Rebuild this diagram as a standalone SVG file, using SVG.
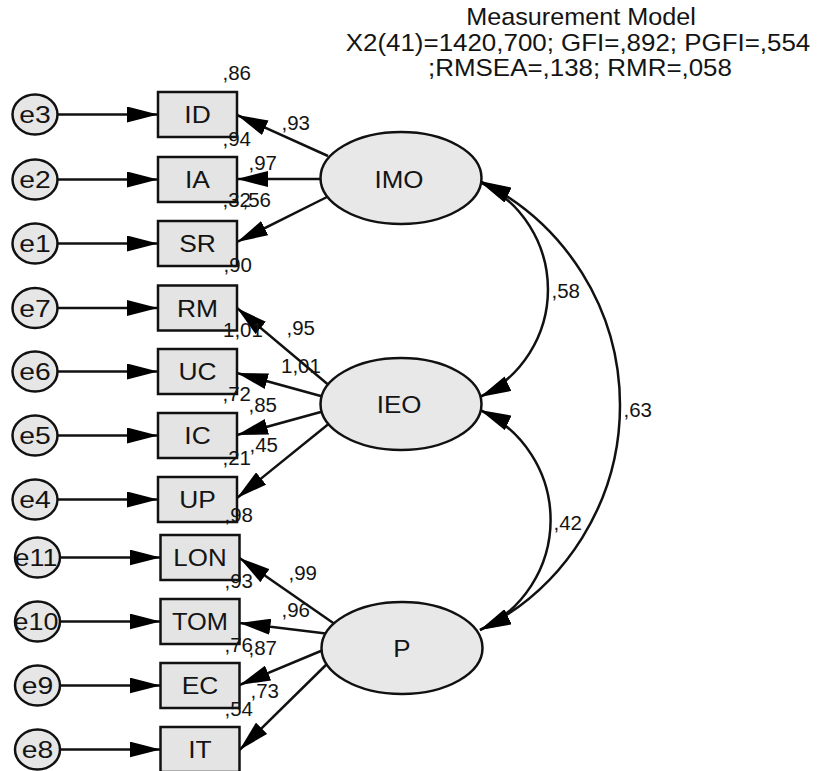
<svg xmlns="http://www.w3.org/2000/svg" width="818" height="771" viewBox="0 0 818 771">
<style>
.bg{fill:#ffffff}
.ov{fill:#e6e6e6;stroke:#111;stroke-width:2.5}
.bx{fill:#e4e4e4;stroke:#111;stroke-width:2.5}
.lat{fill:#e8e8e8;stroke:#111;stroke-width:2.5}
.ln{fill:none;stroke:#111;stroke-width:2.5}
.t{font-family:"Liberation Sans",Arial,sans-serif;fill:#141414}
.nm{font-size:24px;text-anchor:middle}
.num{font-size:19.5px}
.ttl{font-size:24px;text-anchor:middle}
</style>
<defs>
<marker id="ah" viewBox="0 0 31 16" markerWidth="31" markerHeight="16" refX="31" refY="8" orient="auto-start-reverse" markerUnits="userSpaceOnUse">
<path d="M0,0 L31,8 L0,16 z" fill="#000"/>
</marker>
</defs>
<rect class="bg" x="0" y="0" width="818" height="771"/>

<g id="title">
<text class="t ttl" transform="matrix(1.05 0 0 1 581 25)">Measurement Model</text>
<text class="t ttl" transform="matrix(1.08 0 0 1 578 50.5)">X2(41)=1420,700; GFI=,892; PGFI=,554</text>
<text class="t ttl" transform="matrix(1.08 0 0 1 580 76)">;RMSEA=,138; RMR=,058</text>
</g>

<g id="connectors">
<line class="ln" x1="58" y1="114.5" x2="158" y2="114.5" marker-end="url(#ah)"/>
<line class="ln" x1="58" y1="179.5" x2="158" y2="179.5" marker-end="url(#ah)"/>
<line class="ln" x1="58" y1="243.5" x2="158" y2="243.5" marker-end="url(#ah)"/>
<line class="ln" x1="58" y1="308" x2="158" y2="308" marker-end="url(#ah)"/>
<line class="ln" x1="58" y1="371.5" x2="158" y2="371.5" marker-end="url(#ah)"/>
<line class="ln" x1="58" y1="435.5" x2="158" y2="435.5" marker-end="url(#ah)"/>
<line class="ln" x1="58" y1="499.5" x2="158" y2="499.5" marker-end="url(#ah)"/>
<line class="ln" x1="60.5" y1="557.5" x2="160.5" y2="557.5" marker-end="url(#ah)"/>
<line class="ln" x1="60.5" y1="621.5" x2="160.5" y2="621.5" marker-end="url(#ah)"/>
<line class="ln" x1="60.5" y1="685.5" x2="160.5" y2="685.5" marker-end="url(#ah)"/>
<line class="ln" x1="60.5" y1="749.5" x2="160.5" y2="749.5" marker-end="url(#ah)"/>
<line class="ln" x1="328" y1="156" x2="237" y2="115" marker-end="url(#ah)"/>
<line class="ln" x1="326" y1="179" x2="237" y2="179" marker-end="url(#ah)"/>
<line class="ln" x1="327" y1="197" x2="237" y2="242" marker-end="url(#ah)"/>
<line class="ln" x1="331" y1="387" x2="237" y2="308" marker-end="url(#ah)"/>
<line class="ln" x1="328" y1="398" x2="237" y2="373" marker-end="url(#ah)"/>
<line class="ln" x1="328" y1="410" x2="237" y2="435" marker-end="url(#ah)"/>
<line class="ln" x1="331" y1="422" x2="237" y2="498" marker-end="url(#ah)"/>
<line class="ln" x1="339" y1="627" x2="239.5" y2="558" marker-end="url(#ah)"/>
<line class="ln" x1="330" y1="634" x2="239.5" y2="623" marker-end="url(#ah)"/>
<line class="ln" x1="328" y1="648" x2="239.5" y2="685" marker-end="url(#ah)"/>
<line class="ln" x1="331" y1="660" x2="239.5" y2="750" marker-end="url(#ah)"/>
<path class="ln" d="M480,182 A119,119 0 0 1 480,397" marker-start="url(#ah)" marker-end="url(#ah)"/>
<path class="ln" d="M480,410 A121,121 0 0 1 480,630" marker-start="url(#ah)" marker-end="url(#ah)"/>
<path class="ln" d="M480,181 A250,250 0 0 1 480,630" marker-start="url(#ah)" marker-end="url(#ah)"/>
</g>

<g id="e3"><ellipse class="ov" cx="35" cy="114.5" rx="22.5" ry="20"/><text class="t nm" transform="matrix(1.18 0 0 1 35 123)">e3</text></g>
<g id="e2"><ellipse class="ov" cx="35" cy="179.5" rx="22.5" ry="20"/><text class="t nm" transform="matrix(1.18 0 0 1 35 188)">e2</text></g>
<g id="e1"><ellipse class="ov" cx="35" cy="243.5" rx="22.5" ry="20"/><text class="t nm" transform="matrix(1.18 0 0 1 35 252)">e1</text></g>
<g id="e7"><ellipse class="ov" cx="35" cy="308" rx="22.5" ry="20"/><text class="t nm" transform="matrix(1.18 0 0 1 35 316.5)">e7</text></g>
<g id="e6"><ellipse class="ov" cx="35" cy="371.5" rx="22.5" ry="20"/><text class="t nm" transform="matrix(1.18 0 0 1 35 380)">e6</text></g>
<g id="e5"><ellipse class="ov" cx="35" cy="435.5" rx="22.5" ry="20"/><text class="t nm" transform="matrix(1.18 0 0 1 35 444)">e5</text></g>
<g id="e4"><ellipse class="ov" cx="35" cy="499.5" rx="22.5" ry="20"/><text class="t nm" transform="matrix(1.18 0 0 1 35 508)">e4</text></g>
<g id="e11"><ellipse class="ov" cx="37.5" cy="557.5" rx="22.5" ry="20"/><text class="t nm" transform="matrix(1.12 0 0 1 36 566)">e11</text></g>
<g id="e10"><ellipse class="ov" cx="37.5" cy="621.5" rx="22.5" ry="20"/><text class="t nm" transform="matrix(1.12 0 0 1 36 630)">e10</text></g>
<g id="e9"><ellipse class="ov" cx="37.5" cy="685.5" rx="22.5" ry="20"/><text class="t nm" transform="matrix(1.18 0 0 1 37.5 694)">e9</text></g>
<g id="e8"><ellipse class="ov" cx="37.5" cy="749.5" rx="22.5" ry="20"/><text class="t nm" transform="matrix(1.18 0 0 1 37.5 758)">e8</text></g>

<g id="ID"><rect class="bx" x="158" y="92" width="79" height="45"/><text class="t nm" transform="matrix(1.1 0 0 1 197.5 123)">ID</text></g>
<g id="IA"><rect class="bx" x="158" y="157" width="79" height="45"/><text class="t nm" transform="matrix(1.1 0 0 1 197.5 188)">IA</text></g>
<g id="SR"><rect class="bx" x="158" y="221" width="79" height="45"/><text class="t nm" transform="matrix(1.1 0 0 1 197.5 252)">SR</text></g>
<g id="RM"><rect class="bx" x="158" y="285.5" width="79" height="45"/><text class="t nm" transform="matrix(1.1 0 0 1 197.5 316.5)">RM</text></g>
<g id="UC"><rect class="bx" x="158" y="349" width="79" height="45"/><text class="t nm" transform="matrix(1.1 0 0 1 197.5 380)">UC</text></g>
<g id="IC"><rect class="bx" x="158" y="413" width="79" height="45"/><text class="t nm" transform="matrix(1.1 0 0 1 197.5 444)">IC</text></g>
<g id="UP"><rect class="bx" x="158" y="477" width="79" height="45"/><text class="t nm" transform="matrix(1.1 0 0 1 197.5 508)">UP</text></g>
<g id="LON"><rect class="bx" x="160.5" y="535" width="79" height="45"/><text class="t nm" transform="matrix(1.08 0 0 1 200 566)">LON</text></g>
<g id="TOM"><rect class="bx" x="160.5" y="599" width="79" height="45"/><text class="t nm" transform="matrix(1.06 0 0 1 200 630)">TOM</text></g>
<g id="EC"><rect class="bx" x="160.5" y="663" width="79" height="45"/><text class="t nm" transform="matrix(1.1 0 0 1 200 694)">EC</text></g>
<g id="IT"><rect class="bx" x="160.5" y="727" width="79" height="45"/><text class="t nm" transform="matrix(1.1 0 0 1 200 758)">IT</text></g>

<g id="IMO"><ellipse class="lat" cx="401" cy="178" rx="80.5" ry="46"/><text class="t nm" transform="matrix(1.08 0 0 1 399 188)">IMO</text></g>
<g id="IEO"><ellipse class="lat" cx="401" cy="404" rx="80.5" ry="46"/><text class="t nm" transform="matrix(1.08 0 0 1 399 413)">IEO</text></g>
<g id="P"><ellipse class="lat" cx="402" cy="648" rx="80.5" ry="46"/><text class="t nm" transform="matrix(1.08 0 0 1 402 657)">P</text></g>

<g id="labels">
<text class="t num" transform="matrix(1.05 0 0 1 222.5 80)">,86</text>
<text class="t num" transform="matrix(1.05 0 0 1 281.5 130)">,93</text>
<text class="t num" transform="matrix(1.05 0 0 1 222.5 146)">,94</text>
<text class="t num" transform="matrix(1.05 0 0 1 248.5 170)">,97</text>
<text class="t num" transform="matrix(1.05 0 0 1 222.5 207)">,32</text>
<text class="t num" transform="matrix(1.05 0 0 1 242.5 207)">,56</text>
<text class="t num" transform="matrix(1.05 0 0 1 223.5 272)">,90</text>
<text class="t num" transform="matrix(1.05 0 0 1 286.5 335)">,95</text>
<text class="t num" transform="matrix(1.05 0 0 1 223 337)">1,01</text>
<text class="t num" transform="matrix(1.05 0 0 1 281 373)">1,01</text>
<text class="t num" transform="matrix(1.05 0 0 1 222.5 401)">,72</text>
<text class="t num" transform="matrix(1.05 0 0 1 248.5 412)">,85</text>
<text class="t num" transform="matrix(1.05 0 0 1 249.5 452)">,45</text>
<text class="t num" transform="matrix(1.05 0 0 1 222.5 465)">,21</text>
<text class="t num" transform="matrix(1.05 0 0 1 224.5 522)">,98</text>
<text class="t num" transform="matrix(1.05 0 0 1 288.5 580)">,99</text>
<text class="t num" transform="matrix(1.05 0 0 1 224.5 588)">,93</text>
<text class="t num" transform="matrix(1.05 0 0 1 281.5 617)">,96</text>
<text class="t num" transform="matrix(1.05 0 0 1 224.5 652)">,76</text>
<text class="t num" transform="matrix(1.05 0 0 1 248.5 655)">,87</text>
<text class="t num" transform="matrix(1.05 0 0 1 250.5 698)">,73</text>
<text class="t num" transform="matrix(1.05 0 0 1 224.5 716)">,54</text>
<text class="t num" transform="matrix(1.05 0 0 1 551.5 298)">,58</text>
<text class="t num" transform="matrix(1.05 0 0 1 623.5 417)">,63</text>
<text class="t num" transform="matrix(1.05 0 0 1 553.5 530)">,42</text>
</g>
</svg>
